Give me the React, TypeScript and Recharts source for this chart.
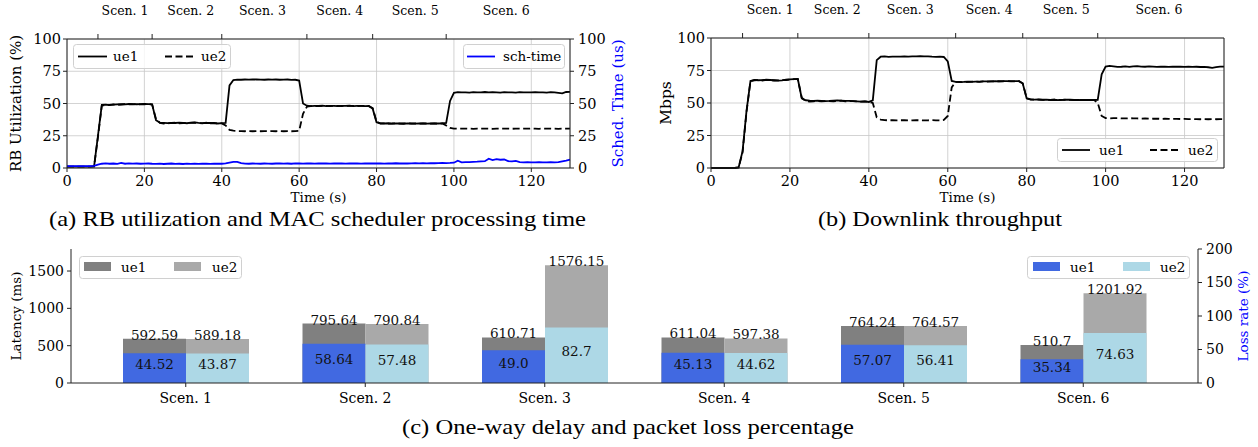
import React from "react";
import { Bar, BarChart, CartesianGrid, LabelList, Line, LineChart, XAxis, YAxis } from "recharts";

const SERIF = "DejaVu Serif";
const TIMES = "Liberation Serif";

// one sample per second, 0..130 s
const time = Array.from({ length: 131 }, (_, i) => i);
const timeTicks = [0, 20, 40, 60, 80, 100, 120];
const pctTicks = [0, 25, 50, 75, 100];

const scenNames = ["Scen. 1", "Scen. 2", "Scen. 3", "Scen. 4", "Scen. 5", "Scen. 6"];
const scenBounds = [8, 22, 40, 62, 79, 98];
const scenCenters = [15, 32, 50.5, 70.5, 90, 113.5];

// (a) RB utilization (%)
const rbUe1 = [
  1, 1, 1, 1, 1, 1, 1, 1.2, 25, 49,
  49.2, 48.8, 49.1, 49.3, 49.5, 49.4, 49.6, 49.5, 49.4, 49.5,
  49.6, 49.5, 49.3, 37, 35.2, 35, 34.8, 35, 34.9, 35.1,
  35, 34.7, 35.2, 35.3, 35, 34.8, 35, 34.9, 34.7, 34.5,
  34.8, 35, 64, 68.2, 68.5, 68.4, 68.6, 68.5, 68.7, 68.6,
  68.5, 68.4, 68.6, 68.5, 68.6, 68.4, 68.5, 68.6, 68.3, 68.4,
  67.8, 50, 48.3, 48, 48.2, 48.1, 48.3, 48, 48.2, 48.1,
  48, 48.2, 48.1, 48.3, 48, 48.1, 48.2, 48, 48.1, 46,
  35.5, 34.6, 34.5, 34.7, 34.4, 34.6, 34.5, 34.3, 34.6, 34.5,
  34.4, 34.6, 34.5, 34.4, 34.6, 34.5, 34.5, 34.7, 35, 52,
  58.3, 58.8, 58.6, 58.7, 58.5, 58.8, 58.6, 58.7, 58.9, 58.6,
  58.8, 58.7, 58.5, 58.8, 58.6, 58.7, 58.5, 58.8, 58.7, 58.6,
  58.7, 58.8, 58.6, 58.7, 58.5, 58.8, 58.6, 58.2, 57.8, 58.9,
  59,
];
const rbUe2 = [
  1, 1, 1, 1, 1, 1, 1, 1.2, 24, 48.5,
  48.6, 49, 49.3, 49, 49.2, 49.5, 49.3, 49.4, 49.6, 49.3,
  49.4, 49.6, 49.2, 38, 35, 34.5, 34.6, 34.9, 35.2, 34.7,
  34.8, 34.9, 35, 35.1, 34.8, 34.6, 35.1, 34.7, 34.9, 34.6,
  34.6, 33, 29.5, 28.9, 28.7, 28.6, 28.5, 28.6, 28.5, 28.6,
  28.5, 28.6, 28.5, 28.6, 28.5, 28.6, 28.5, 28.6, 28.5, 28.6,
  28.8, 42, 47.5, 47.9, 48.1, 48, 48.2, 48.1, 48, 48.2,
  48.1, 48, 48.2, 48.1, 48.2, 48, 48.1, 48.2, 48, 46.5,
  35.8, 34.5, 34.6, 34.4, 34.5, 34.7, 34.4, 34.5, 34.6, 34.4,
  34.5, 34.4, 34.6, 34.5, 34.4, 34.6, 34.4, 34.6, 33, 31,
  30.6, 30.4, 30.5, 30.6, 30.5, 30.4, 30.6, 30.5, 30.6, 30.5,
  30.4, 30.6, 30.5, 30.6, 30.5, 30.4, 30.6, 30.5, 30.6, 30.5,
  30.6, 30.5, 30.4, 30.6, 30.5, 30.6, 30.5, 30.4, 30.6, 30.5,
  30.5,
];
// (a) scheduler time (us)
const schTime = [
  1.5, 1.5, 1.5, 1.5, 1.5, 1.5, 1.5, 1.6, 2.6, 3.3,
  3.6, 3.3, 3.5, 3.2, 3.9, 3.3, 3.6, 3.4, 3.5, 3.3,
  3.4, 3.5, 3.3, 3.2, 3.4, 3.1, 3.3, 3.5, 3.2, 3.3,
  3.1, 3.4, 3.2, 3.3, 3.2, 3.4, 3.3, 3.2, 3.3, 3.4,
  3.3, 3.6, 4.2, 4.8, 4.7, 3.8, 3.4, 3.3, 3.5, 3.4,
  3.3, 3.5, 3.4, 3.3, 3.5, 3.6, 3.4, 3.5, 3.3, 3.6,
  3.5, 3.4, 3.6, 3.5, 3.4, 3.5, 3.6, 3.5, 3.4, 3.6,
  3.5, 3.6, 3.4, 3.5, 3.6, 3.5, 3.4, 3.5, 3.6, 3.5,
  3.6, 3.5, 3.4, 3.6, 3.5, 3.7, 3.5, 3.6, 3.5, 3.6,
  3.7, 3.6, 3.7, 3.6, 3.8, 3.7, 3.8, 3.9, 3.8, 3.9,
  4.1, 5.6, 4.4, 4.5, 4.6, 4.8, 4.9, 5.1, 5.3, 7.2,
  6.1, 6.8, 6.4, 6.6, 5.4, 5.1, 5.5, 4.6, 4.3, 4.5,
  4.4, 4.3, 4.5, 4.4, 4.3, 4.5, 4.4, 4.6, 5.2, 5.8,
  6.5,
];

// (b) downlink throughput (Mbps)
const dlUe1 = [
  0, 0, 0, 0, 0, 0, 0, 0.5, 13, 44,
  67, 67.8, 67.5, 67.6, 67.9, 67.7, 67.5, 67.2, 67.4, 67.9,
  68.2, 68.4, 68.5, 53.5, 52.1, 51.8, 51.6, 51.9, 51.7, 51.5,
  51.6, 51.8, 52, 51.9, 51.6, 51.7, 51.5, 51.3, 51, 51.2,
  50.8, 52, 83, 85.6, 85.8, 85.5, 85.6, 85.7, 85.6, 85.8,
  85.7, 85.8, 85.9, 86, 85.9, 85.8, 85.6, 85.5, 85.6, 85.4,
  82, 67, 66.3, 66.1, 66.2, 66.4, 66.3, 66.5, 66.4, 66.6,
  66.7, 66.6, 66.8, 66.7, 66.9, 66.8, 66.7, 66.9, 66.8, 65,
  53.5, 52.8, 52.6, 52.7, 52.5, 52.6, 52.3, 52.5, 52.2, 52.4,
  52.6, 52.5, 52.3, 52.4, 52.2, 52.3, 52.4, 52.3, 52.4, 72,
  78, 78.5, 78.2, 77.8, 77.9, 78.1, 77.8, 78.2, 78.4, 78,
  77.9, 78.1, 78, 77.8, 77.9, 78, 77.8, 77.9, 78, 77.9,
  77.8, 77.9, 77.8, 77.9, 77.7, 77.8, 77.5, 77.1, 77.6, 78,
  78,
];
const dlUe2 = [
  0, 0, 0, 0, 0, 0, 0, 0.5, 12, 43,
  66.8, 67.5, 67.6, 67.3, 67.8, 67.5, 67.3, 67.4, 67.6, 67.7,
  68, 68.3, 68.4, 54, 51.5, 51, 51.3, 51.6, 51.2, 51.5,
  51.4, 51.2, 51.5, 51.8, 51.3, 51.5, 51.4, 51.2, 51.1, 51.3,
  51, 50, 39, 37.2, 36.8, 36.7, 36.8, 36.6, 36.7, 36.8,
  36.6, 36.7, 36.8, 36.7, 36.6, 36.7, 36.8, 36.7, 36.6, 37,
  40, 62, 66.3, 66.2, 66.1, 66.3, 66.4, 66.5, 66.3, 66.6,
  66.5, 66.7, 66.6, 66.8, 66.7, 66.9, 66.8, 66.7, 66.9, 65.2,
  53.7, 52.7, 52.5, 52.6, 52.4, 52.5, 52.4, 52.6, 52.3, 52.4,
  52.5, 52.4, 52.3, 52.5, 52.3, 52.4, 52.3, 52.4, 50, 40,
  38.4, 38.2, 38.3, 38.4, 38.2, 38.1, 38.3, 38.2, 38.1, 38,
  38.1, 38, 37.9, 38, 37.8, 37.9, 37.8, 37.7, 37.8, 37.7,
  37.8, 37.6, 37.7, 37.6, 37.5, 37.6, 37.5, 37.6, 37.5, 37.6,
  37.6,
];

// (c) one-way delay (ms) and loss rate (%)
const latUe1 = [592.59, 795.64, 610.71, 611.04, 764.24, 510.7];
const latUe2 = [589.18, 790.84, 1576.15, 597.38, 764.57, 1201.92];
const lossUe1 = [44.52, 58.64, 49.0, 45.13, 57.07, 35.34];
const lossUe2 = [43.87, 57.48, 82.7, 44.62, 56.41, 74.63];
const latTicks = [0, 500, 1000, 1500];
const lossTicks = [0, 50, 100, 150, 200];

const rbData = time.map((t, i) => ({ t, ue1: rbUe1[i], ue2: rbUe2[i], sch: schTime[i] }));
const dlData = time.map((t, i) => ({ t, ue1: dlUe1[i], ue2: dlUe2[i] }));
const delayData = scenNames.map((scen, i) => ({
  scen,
  lat1: latUe1[i],
  lat2: latUe2[i],
  loss1: lossUe1[i],
  loss2: lossUe2[i],
}));

const AXIS = "#222";
const tickStyle = { fontSize: 14.5, fill: "#000", fontFamily: SERIF };
const barTickStyle = { fontSize: 14, fill: "#000", fontFamily: SERIF };
const DASH = "7 3.5";

// python-like str() of a float: 49.0 stays "49.0"
const pyStr = (v: number) => (Number.isInteger(v) ? v.toFixed(1) : String(v));

function ScenTick(props: any) {
  const { x, y, payload } = props;
  const i = scenCenters.indexOf(payload.value);
  if (i < 0) return <line x1={x} x2={x} y1={y} y2={y - 5} stroke={AXIS} strokeWidth={1} />;
  return (
    <text x={x} y={y - 24} textAnchor="middle" fontSize={12.5} fontFamily={SERIF} fill="#000">
      {scenNames[i]}
    </text>
  );
}

function topLabel(props: any) {
  const vb = props.viewBox || props;
  const { x, y, width } = vb;
  return (
    <text x={x + width / 2} y={y + 1} textAnchor="middle" fontSize={13.5} fontFamily={SERIF} fill="#111">
      {pyStr(Number(props.value))}
    </text>
  );
}

function midLabel(props: any) {
  const vb = props.viewBox || props;
  const { x, y, width, height } = vb;
  return (
    <text x={x + width / 2} y={y + height / 2 + 1} textAnchor="middle" fontSize={13.5} fontFamily={SERIF} fill="#111">
      {pyStr(Number(props.value))}
    </text>
  );
}

function RbChart() {
  return (
    <LineChart width={640} height={210} data={rbData} margin={{ top: 0, right: 0, bottom: 0, left: 0 }}>
      <CartesianGrid stroke="#c8c8c8" strokeWidth={0.8} />
      <XAxis
        dataKey="t"
        type="number"
        domain={[0, 130]}
        ticks={timeTicks}
        interval={0}
        height={42}
        tickSize={4}
        tickMargin={4}
        stroke={AXIS}
        tick={tickStyle}
        label={{ value: "Time (s)", position: "insideBottom", offset: 8, fontSize: 13.5, fontFamily: SERIF, fill: "#000" }}
      />
      <XAxis
        xAxisId="top"
        orientation="top"
        dataKey="t"
        type="number"
        domain={[0, 130]}
        ticks={[...scenBounds, ...scenCenters]}
        interval={0}
        height={39}
        tickSize={0}
        tickMargin={0}
        tickLine={false}
        stroke={AXIS}
        tick={ScenTick}
      />
      <YAxis
        domain={[0, 100]}
        ticks={pctTicks}
        interval={0}
        width={67}
        tickSize={4}
        tickMargin={2}
        stroke={AXIS}
        tick={tickStyle}
        label={{ value: "RB Utilization (%)", angle: -90, position: "insideLeft", offset: 16, style: { textAnchor: "middle" }, fontSize: 15, fontFamily: SERIF, fill: "#000" }}
      />
      <YAxis
        yAxisId="r"
        orientation="right"
        domain={[0, 100]}
        ticks={pctTicks}
        interval={0}
        width={70}
        tickSize={4}
        tickMargin={4}
        stroke={AXIS}
        tick={tickStyle}
        label={{ value: "Sched. Time (us)", angle: -90, position: "insideRight", offset: 22, style: { textAnchor: "middle" }, fontSize: 15, fontFamily: SERIF, fill: "#0000ff" }}
      />
      <Line dataKey="ue1" stroke="#000" strokeWidth={1.8} dot={false} isAnimationActive={false} />
      <Line dataKey="ue2" stroke="#000" strokeWidth={1.8} strokeDasharray={DASH} dot={false} isAnimationActive={false} />
      <Line yAxisId="r" dataKey="sch" stroke="#0000ff" strokeWidth={1.8} dot={false} isAnimationActive={false} />
    </LineChart>
  );
}

function DlChart() {
  return (
    <LineChart width={618} height={210} data={dlData} margin={{ top: 0, right: 33, bottom: 0, left: 0 }}>
      <CartesianGrid stroke="#c8c8c8" strokeWidth={0.8} />
      <XAxis
        dataKey="t"
        type="number"
        domain={[0, 130]}
        ticks={timeTicks}
        interval={0}
        height={42}
        tickSize={4}
        tickMargin={4}
        stroke={AXIS}
        tick={tickStyle}
        label={{ value: "Time (s)", position: "insideBottom", offset: 8, fontSize: 13.5, fontFamily: SERIF, fill: "#000" }}
      />
      <XAxis
        xAxisId="top"
        orientation="top"
        dataKey="t"
        type="number"
        domain={[0, 130]}
        ticks={[...scenBounds, ...scenCenters]}
        interval={0}
        height={38}
        tickSize={0}
        tickMargin={0}
        tickLine={false}
        stroke={AXIS}
        tick={ScenTick}
      />
      <YAxis
        domain={[0, 100]}
        ticks={pctTicks}
        interval={0}
        width={71}
        tickSize={4}
        tickMargin={2}
        stroke={AXIS}
        tick={tickStyle}
        label={{ value: "Mbps", angle: -90, position: "insideLeft", offset: 25, style: { textAnchor: "middle" }, fontSize: 15.5, fontFamily: SERIF, fill: "#000" }}
      />
      <YAxis yAxisId="r" orientation="right" domain={[0, 100]} width={1} tick={false} tickLine={false} stroke={AXIS} />
      <Line dataKey="ue1" stroke="#000" strokeWidth={1.8} dot={false} isAnimationActive={false} />
      <Line dataKey="ue2" stroke="#000" strokeWidth={1.8} strokeDasharray={DASH} dot={false} isAnimationActive={false} />
    </LineChart>
  );
}

function DelayChart() {
  return (
    <BarChart
      width={1258}
      height={180}
      data={delayData}
      margin={{ top: 14, right: 0, bottom: 0, left: 0 }}
      barSize={63}
      barGap={0}
    >
      <XAxis
        xAxisId="lat"
        dataKey="scen"
        height={32}
        padding={{ left: 25, right: 25 }}
        interval={0}
        tickSize={4}
        tickMargin={6}
        stroke={AXIS}
        tick={barTickStyle}
      />
      <XAxis
        xAxisId="loss"
        dataKey="scen"
        orientation="top"
        height={0}
        padding={{ left: 25, right: 25 }}
        tick={false}
        tickLine={false}
        stroke={AXIS}
      />
      <YAxis
        yAxisId="lat"
        domain={[0, 1795]}
        ticks={latTicks}
        interval={0}
        width={71}
        tickSize={4}
        tickMargin={3}
        stroke={AXIS}
        tick={barTickStyle}
        label={{ value: "Latency (ms)", angle: -90, position: "insideLeft", offset: 16, style: { textAnchor: "middle" }, fontSize: 13.5, fontFamily: SERIF, fill: "#000" }}
      />
      <YAxis
        yAxisId="loss"
        orientation="right"
        domain={[0, 200]}
        ticks={lossTicks}
        interval={0}
        width={60}
        tickSize={4}
        tickMargin={4}
        stroke={AXIS}
        tick={barTickStyle}
        label={{ value: "Loss rate (%)", angle: -90, position: "insideRight", offset: 15, style: { textAnchor: "middle" }, fontSize: 13.5, fontFamily: SERIF, fill: "#0000ff" }}
      />
      <Bar xAxisId="lat" yAxisId="lat" dataKey="lat1" fill="#808080" isAnimationActive={false}>
        <LabelList dataKey="lat1" content={topLabel} />
      </Bar>
      <Bar xAxisId="lat" yAxisId="lat" dataKey="lat2" fill="#a9a9a9" isAnimationActive={false}>
        <LabelList dataKey="lat2" content={topLabel} />
      </Bar>
      <Bar xAxisId="loss" yAxisId="loss" dataKey="loss1" fill="#4169e1" isAnimationActive={false}>
        <LabelList dataKey="loss1" content={midLabel} />
      </Bar>
      <Bar xAxisId="loss" yAxisId="loss" dataKey="loss2" fill="#add8e6" isAnimationActive={false}>
        <LabelList dataKey="loss2" content={midLabel} />
      </Bar>
    </BarChart>
  );
}

const legendText = { fontSize: 13.5, fontFamily: SERIF, fill: "#000" };

function Overlay() {
  return (
    <svg width={1258} height={447} style={{ position: "absolute", left: 0, top: 0, pointerEvents: "none" }}>
      {/* legend (a) left */}
      <rect x={73.5} y={44.5} width={157} height={24} rx={3} fill="#fff" fillOpacity={0.8} stroke="#d0d0d0" />
      <line x1={78} x2={107} y1={56.5} y2={56.5} stroke="#000" strokeWidth={1.8} />
      <text x={113} y={61} {...legendText}>ue1</text>
      <line x1={165} x2={193} y1={56.5} y2={56.5} stroke="#000" strokeWidth={1.8} strokeDasharray={DASH} />
      <text x={201} y={61} {...legendText}>ue2</text>
      {/* legend (a) right */}
      <rect x={463.5} y={44.5} width={101} height={24} rx={3} fill="#fff" fillOpacity={0.8} stroke="#d0d0d0" />
      <line x1={467} x2={495} y1={56.5} y2={56.5} stroke="#0000ff" strokeWidth={1.8} />
      <text x={503} y={61} {...legendText}>sch-time</text>
      {/* legend (b) */}
      <rect x={1057.5} y={138.5} width={160} height={23} rx={3} fill="#fff" fillOpacity={0.8} stroke="#d0d0d0" />
      <line x1={1062} x2={1090} y1={150} y2={150} stroke="#000" strokeWidth={1.8} />
      <text x={1099} y={154.5} {...legendText}>ue1</text>
      <line x1={1150} x2={1178} y1={150} y2={150} stroke="#000" strokeWidth={1.8} strokeDasharray={DASH} />
      <text x={1188} y={154.5} {...legendText}>ue2</text>
      {/* legend (c) left */}
      <rect x={79.5} y={256.5} width={162} height={22} rx={3} fill="#fff" fillOpacity={0.8} stroke="#d0d0d0" />
      <rect x={84} y={262} width={27} height={9} fill="#808080" />
      <text x={121} y={271.5} {...legendText}>ue1</text>
      <rect x={174} y={262} width={27} height={9} fill="#a9a9a9" />
      <text x={212} y={271.5} {...legendText}>ue2</text>
      {/* legend (c) right */}
      <rect x={1027.5} y={256.5} width={162} height={22} rx={3} fill="#fff" fillOpacity={0.8} stroke="#d0d0d0" />
      <rect x={1033} y={262} width={27} height={9} fill="#4169e1" />
      <text x={1070} y={271.5} {...legendText}>ue1</text>
      <rect x={1123} y={262} width={27} height={9} fill="#add8e6" />
      <text x={1160} y={271.5} {...legendText}>ue2</text>
      {/* captions */}
      <text x={49} y={226} textLength={537} lengthAdjust="spacingAndGlyphs" fontSize={21.5} fontFamily={TIMES} fill="#000">
        (a) RB utilization and MAC scheduler processing time
      </text>
      <text x={818} y={226} textLength={244} lengthAdjust="spacingAndGlyphs" fontSize={21.5} fontFamily={TIMES} fill="#000">
        (b) Downlink throughput
      </text>
      <text x={402} y={433.5} textLength={452} lengthAdjust="spacingAndGlyphs" fontSize={21.5} fontFamily={TIMES} fill="#000">
        (c) One-way delay and packet loss percentage
      </text>
    </svg>
  );
}

export default function App() {
  return (
    <div style={{ position: "absolute", left: 0, top: 0, width: 1258, height: 447, background: "#fff", overflow: "hidden" }}>
      <div style={{ position: "absolute", left: 0, top: 0 }}>
        <RbChart />
      </div>
      <div style={{ position: "absolute", left: 640, top: 0 }}>
        <DlChart />
      </div>
      <div style={{ position: "absolute", left: 0, top: 235 }}>
        <DelayChart />
      </div>
      <Overlay />
    </div>
  );
}
